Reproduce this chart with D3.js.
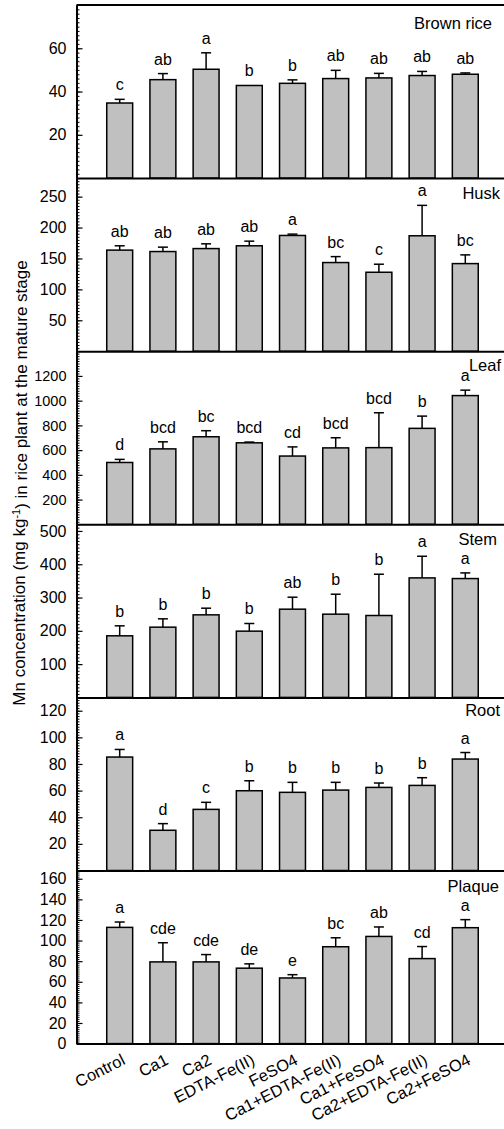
<!DOCTYPE html>
<html>
<head>
<meta charset="utf-8">
<script src="https://cdn.jsdelivr.net/npm/d3@7"></script>
<style>
    body { margin: 0; background: #fff; }
    text { font-family: Arial, "Liberation Sans", sans-serif; fill: #000; }
</style>
</head>
<body>
<div id="chart"></div>
<script>

// Treatments on the x axis
const treatments = ["Control", "Ca1", "Ca2", "EDTA-Fe(II)", "FeSO4",
    "Ca1+EDTA-Fe(II)", "Ca1+FeSO4", "Ca2+EDTA-Fe(II)", "Ca2+FeSO4"];

// Brown rice
const brownRiceMean = [34.7, 45.5, 50.3, 42.8, 43.8, 46.0, 46.3, 47.4, 48.0];
const brownRiceErr = [1.7, 2.8, 7.6, 0, 1.6, 3.8, 2.1, 1.9, 0.6];
const brownRiceLetters = ["c", "ab", "a", "b", "b", "ab", "ab", "ab", "ab"];

// Husk
const huskMean = [163.5, 161.2, 166, 170.5, 187.2, 143.4, 127.7, 186.7, 141.7];
const huskErr = [7, 7.1, 7.7, 7.5, 2.2, 9.6, 13, 49.2, 14.1];
const huskLetters = ["ab", "ab", "ab", "ab", "a", "bc", "c", "a", "bc"];

// Leaf
const leafMean = [500, 610, 708, 659, 552, 618, 620, 776, 1041];
const leafErr = [25, 57, 49, 6, 74, 82, 282, 99, 44];
const leafLetters = ["d", "bcd", "bc", "bcd", "cd", "bcd", "bcd", "b", "a"];

// Stem
const stemMean = [185, 211, 248, 199, 265, 250, 246, 359, 357];
const stemErr = [30, 25, 20, 23, 36, 60, 124, 65, 17];
const stemLetters = ["b", "b", "b", "b", "ab", "b", "b", "a", "a"];

// Root
const rootMean = [85.2, 30.2, 45.9, 59.9, 58.7, 60.4, 62.4, 63.9, 83.7];
const rootErr = [5.7, 5, 5.3, 7.5, 7.5, 5.8, 3.3, 5.8, 4.9];
const rootLetters = ["a", "d", "c", "b", "b", "b", "b", "b", "a"];

// Plaque
const plaqueMean = [112.8, 79.3, 79.3, 73.2, 63.7, 94, 104, 82.5, 112.5];
const plaqueErr = [5.2, 18.6, 7.1, 4.2, 3.2, 8.7, 9.2, 11.7, 7.8];
const plaqueLetters = ["a", "cde", "cde", "de", "e", "bc", "ab", "cd", "a"];

// Axis settings per panel
const panelNames = ["Brown rice", "Husk", "Leaf", "Stem", "Root", "Plaque"];
const panelMax = [80, 280, 1400, 520, 130, 168];
const panelTicks = [[20, 40, 60], [50, 100, 150, 200, 250], [200, 400, 600, 800, 1000, 1200],
    [100, 200, 300, 400, 500], [20, 40, 60, 80, 100, 120], [0, 20, 40, 60, 80, 100, 120, 140, 160]];
const panelMinor = [2, 5, 20, 10, 2, 2];


class BarPanel {

    constructor(svg, index, name, mean, err, letters) {
        this.svg = svg;
        this.index = index;
        this.name = name;
        this.mean = mean;
        this.err = err;
        this.letters = letters;

        this.initVis();
    }

    initVis() {
        let vis = this;

        vis.top = layout.top + vis.index * layout.panelHeight;
        vis.bottom = vis.top + layout.panelHeight;

        vis.g = vis.svg.append("g");

        vis.y = d3.scaleLinear()
            .domain([0, panelMax[vis.index]])
            .range([vis.bottom, vis.top]);

        vis.displayData = treatments.map((t, i) => ({
            name: t, mean: vis.mean[i], err: vis.err[i], letter: vis.letters[i]
        }));

        vis.updateVis();
    }

    updateVis() {
        let vis = this;
        let bw = x.step() * 0.6;

        // bars
        vis.g.selectAll(".bar")
            .data(vis.displayData)
            .join("rect")
            .attr("class", "bar")
            .attr("x", d => x(d.name) - bw / 2)
            .attr("width", bw)
            .attr("y", d => vis.y(d.mean))
            .attr("height", d => vis.y(0) - vis.y(d.mean))
            .attr("fill", "#c0c0c0")
            .attr("stroke", "#000")
            .attr("stroke-width", 1.5);

        // error bars (upper only)
        vis.g.selectAll(".err")
            .data(vis.displayData.filter(d => d.err > 0))
            .join("line")
            .attr("class", "err")
            .attr("x1", d => x(d.name))
            .attr("x2", d => x(d.name))
            .attr("y1", d => vis.y(d.mean))
            .attr("y2", d => vis.y(d.mean + d.err))
            .attr("stroke", "#000")
            .attr("stroke-width", 1.5);

        vis.g.selectAll(".cap")
            .data(vis.displayData.filter(d => d.err > 0))
            .join("line")
            .attr("class", "cap")
            .attr("x1", d => x(d.name) - 5)
            .attr("x2", d => x(d.name) + 5)
            .attr("y1", d => vis.y(d.mean + d.err))
            .attr("y2", d => vis.y(d.mean + d.err))
            .attr("stroke", "#000")
            .attr("stroke-width", 1.5);

        // significance letters
        vis.g.selectAll(".letter")
            .data(vis.displayData)
            .join("text")
            .attr("class", "letter")
            .attr("x", d => x(d.name))
            .attr("y", d => vis.y(d.mean + d.err) - 9)
            .attr("text-anchor", "middle")
            .style("font-size", "16px")
            .text(d => d.letter);

        // minor ticks
        let minor = d3.range(0, panelMax[vis.index] + 1e-6, panelMinor[vis.index]);
        vis.g.append("g")
            .attr("transform", `translate(${layout.left},0)`)
            .call(d3.axisLeft(vis.y).tickValues(minor).tickSize(-3).tickFormat(""))
            .call(g => g.select(".domain").remove())
            .selectAll("line").attr("stroke-width", 1);

        // y axis
        let yAxis = vis.g.append("g")
            .attr("transform", `translate(${layout.left},0)`)
            .call(d3.axisLeft(vis.y).tickValues(panelTicks[vis.index])
                .tickFormat(d3.format("d"))
                .tickSizeInner(-6).tickSizeOuter(0).tickPadding(10));
        yAxis.select(".domain").attr("stroke-width", 2);
        yAxis.selectAll(".tick line").attr("stroke-width", 1.2);
        yAxis.selectAll("text").style("font-size", layout.tickFont[vis.index]);

        // zero line / x axis
        let xAxis = vis.g.append("g")
            .attr("transform", `translate(0,${vis.y(0)})`)
            .call(d3.axisBottom(x).tickSize(0).tickSizeOuter(0)
                .tickFormat(vis.index === panelNames.length - 1 ? d => d : ""));
        xAxis.select(".domain").attr("stroke-width", 2);
        xAxis.selectAll("text")
            .attr("x", 0).attr("y", 0).attr("dy", 0)
            .attr("text-anchor", "end")
            .attr("transform", "translate(6,20) rotate(-27)")
            .style("font-size", "16.5px");

        // panel name
        vis.g.append("text")
            .attr("x", layout.titleX[vis.index])
            .attr("y", vis.top + layout.titleDy[vis.index])
            .attr("text-anchor", "end")
            .style("font-size", "16.5px")
            .text(vis.name);
    }
}


const layout = {
    top: 5,
    left: 76.5,
    right: 508.5,
    panelHeight: 173.1,
    tickFont: ["16px", "16px", "14.5px", "16px", "16px", "16px"],
    titleX: [492, 500, 501, 497, 500, 499],
    titleDy: [24, 20.5, 19.5, 20.5, 18.5, 21.5]
};

const svg = d3.select("#chart").append("svg")
    .attr("width", 504)
    .attr("height", 1129);

const x = d3.scalePoint()
    .domain(treatments)
    .range([layout.left, layout.right])
    .padding(1);

// top border
svg.append("line")
    .attr("x1", layout.left).attr("x2", layout.right)
    .attr("y1", layout.top).attr("y2", layout.top)
    .attr("stroke", "#000").attr("stroke-width", 2);

new BarPanel(svg, 0, panelNames[0], brownRiceMean, brownRiceErr, brownRiceLetters);
new BarPanel(svg, 1, panelNames[1], huskMean, huskErr, huskLetters);
new BarPanel(svg, 2, panelNames[2], leafMean, leafErr, leafLetters);
new BarPanel(svg, 3, panelNames[3], stemMean, stemErr, stemLetters);
new BarPanel(svg, 4, panelNames[4], rootMean, rootErr, rootLetters);
new BarPanel(svg, 5, panelNames[5], plaqueMean, plaqueErr, plaqueLetters);

// y axis title
let ytitle = svg.append("text")
    .attr("transform", "translate(24.5,483) rotate(-90)")
    .attr("text-anchor", "middle")
    .style("font-size", "17px");
ytitle.append("tspan").text("Mn concentration (mg kg");
ytitle.append("tspan").attr("dy", "-0.45em").style("font-size", "11px").text("-1");
ytitle.append("tspan").attr("dy", "0.45em").text(") in rice plant at the mature stage");

</script>
</body>
</html>
